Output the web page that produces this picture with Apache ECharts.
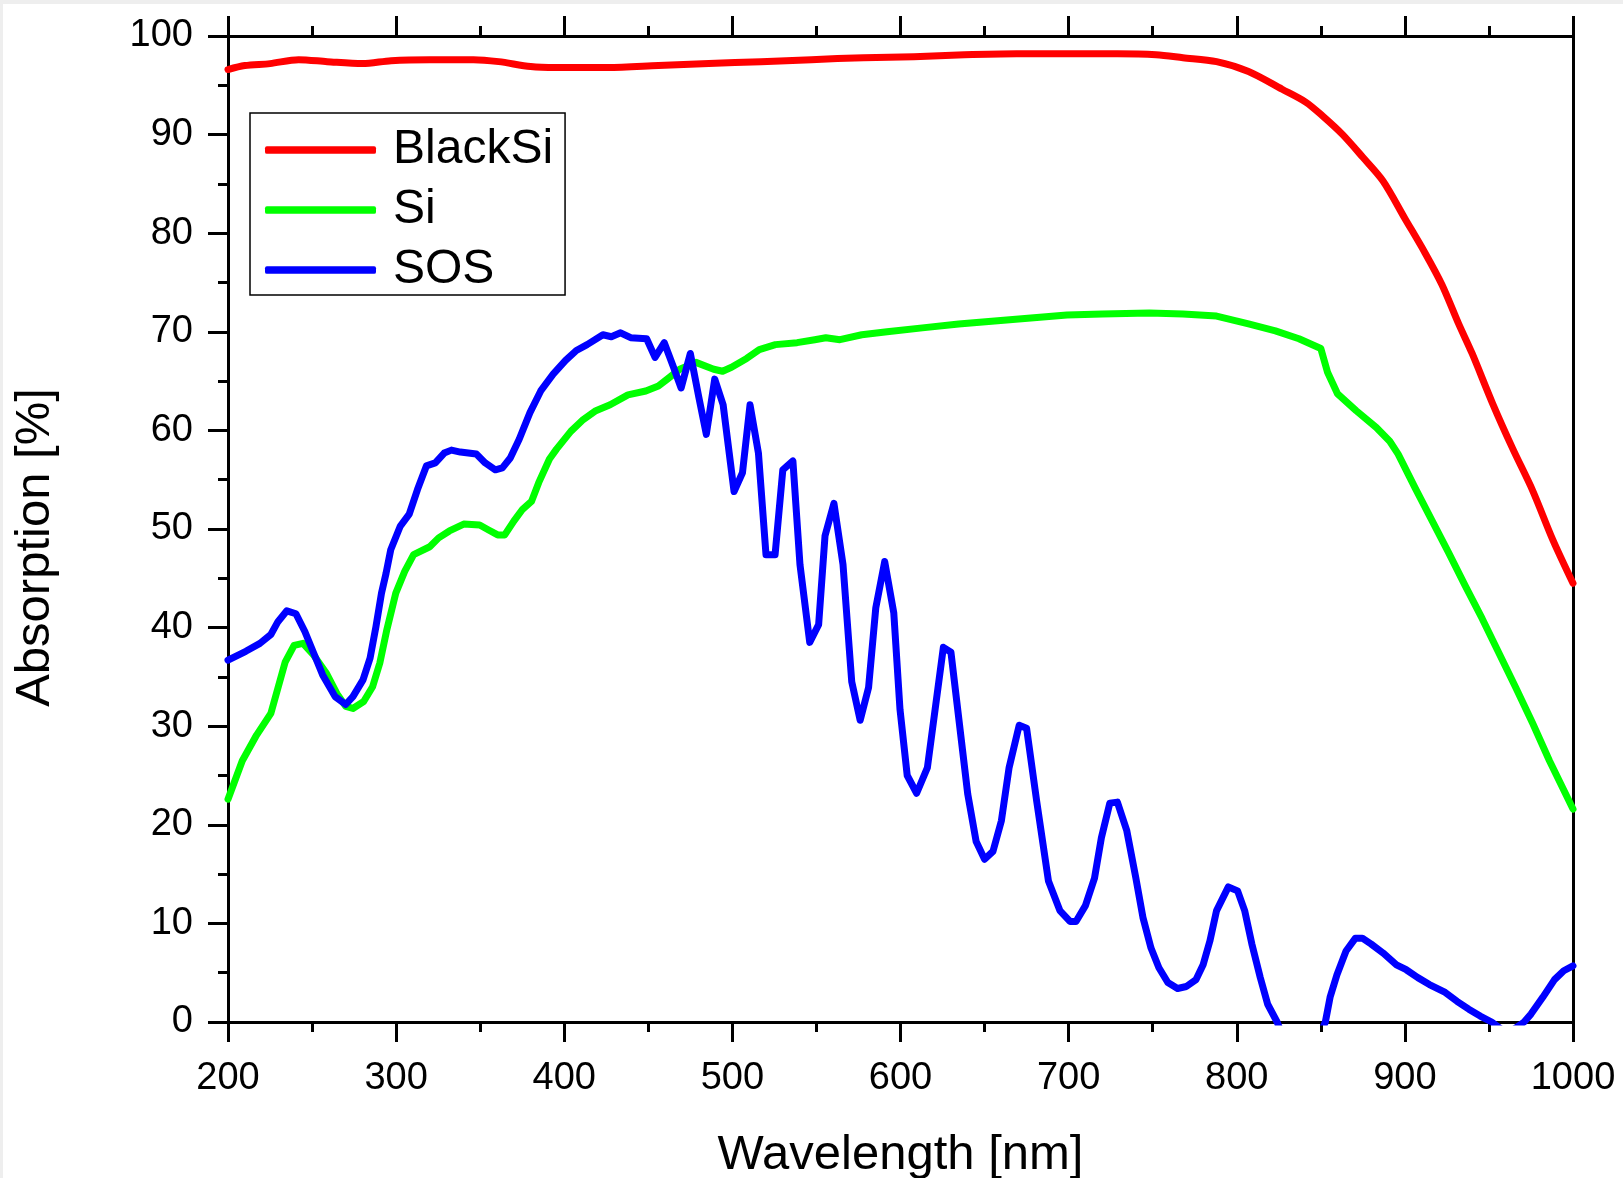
<!DOCTYPE html>
<html>
<head>
<meta charset="utf-8">
<title>Absorption</title>
<script src="https://cdn.jsdelivr.net/npm/echarts@6/dist/echarts.min.js"></script>
<style>
  html, body { margin: 0; padding: 0; background: #fff; }
  .frame { position: relative; width: 1623px; height: 1178px; box-shadow: inset 3px 4px 0 #eeeeee; }
  #chart { position: absolute; left: 0; top: 0; width: 1623px; height: 1178px; }
</style>
</head>
<body>
<div class="frame"><div id="chart"></div></div>
<script>
// wavelength [nm] and absorption [%]
const blackSiNm = [200, 210, 225, 242, 259, 280, 297, 320, 346, 361, 380, 395, 426, 456, 486, 517, 547, 578, 608, 638, 669, 699, 729, 752, 768, 788, 807, 827, 841, 851, 863, 875, 887, 900, 912, 922, 932, 940, 952, 964, 976, 988, 1000]
const blackSiVal = [96.6, 97.0, 97.2, 97.6, 97.4, 97.2, 97.5, 97.6, 97.6, 97.4, 96.9, 96.8, 96.8, 97.0, 97.2, 97.4, 97.6, 97.8, 97.9, 98.1, 98.2, 98.2, 98.2, 98.1, 97.8, 97.4, 96.4, 94.6, 93.3, 91.9, 90.0, 87.7, 85.3, 81.5, 78.0, 74.8, 70.8, 67.8, 62.8, 58.2, 53.9, 48.9, 44.5]

const siNm = [200, 208.5, 217, 225.5, 234, 239.3, 244.6, 251, 258.4, 264.8, 270.1, 274.3, 280.7, 286, 290.3, 294.5, 299.8, 305.1, 310.4, 320, 325.3, 331.7, 340.2, 349.7, 355, 360.4, 364.6, 370, 375.2, 380.5, 384.8, 391.2, 395.4, 403.9, 411.3, 418.8, 427.3, 437.9, 448.5, 456, 461.3, 468.7, 478.3, 488.9, 494.2, 499.5, 508.5, 516, 525.6, 538.5, 549, 555.6, 564, 577, 592, 613, 634.6, 656, 677.5, 699, 720, 748, 768, 788, 807, 823, 837, 850, 854, 860, 871, 883, 891, 896, 906, 916, 926, 936, 946, 956, 966, 976, 986, 1000]
const siVal = [22.6, 26.5, 29.1, 31.3, 36.5, 38.2, 38.4, 37.2, 35.4, 33.3, 32.0, 31.8, 32.5, 34.0, 36.4, 39.8, 43.5, 45.7, 47.4, 48.2, 49.1, 49.8, 50.5, 50.4, 49.9, 49.4, 49.4, 50.8, 52.0, 52.8, 54.7, 57.1, 58.1, 59.9, 61.1, 62.0, 62.6, 63.6, 64.0, 64.5, 65.2, 66.2, 66.9, 66.2, 66.0, 66.4, 67.3, 68.2, 68.7, 68.9, 69.2, 69.4, 69.2, 69.7, 70.0, 70.4, 70.8, 71.1, 71.4, 71.7, 71.8, 71.9, 71.8, 71.6, 70.8, 70.1, 69.3, 68.3, 65.9, 63.7, 62.0, 60.3, 58.9, 57.6, 54.2, 50.9, 47.6, 44.2, 40.9, 37.4, 33.9, 30.3, 26.5, 21.6]

const sosNm = [200, 210.6, 219, 225.5, 229.7, 235, 240.4, 245.7, 251, 256.3, 263.7, 270, 274.3, 280.3, 284.5, 288, 291.3, 294, 296.8, 302.5, 307.8, 312.7, 318, 323.3, 328.6, 332.9, 338.2, 347.7, 353, 359, 363.2, 367.9, 373.2, 379.6, 386, 393.4, 400.8, 407.2, 413.6, 423, 428, 433.5, 439.5, 449, 454, 459.5, 465, 469.5, 475, 480, 484.5, 489.5, 494.5, 501, 506, 510.5, 515.5, 520, 525.4, 530, 536, 540.2, 546, 551.3, 555.1, 560.4, 565.8, 571, 576, 581, 585.3, 590.6, 596, 599.7, 604, 609.6, 616, 625.5, 630, 640, 645, 650, 655, 660, 664.6, 670.6, 675, 681, 688, 694.8, 700.8, 704.4, 710, 715.4, 719.5, 724.5, 729, 734.6, 740, 744.2, 749, 753.7, 759, 764.8, 770, 775.8, 780, 784, 788, 795, 800.5, 804.7, 809, 814, 818.4, 824, 830, 838, 846, 852.7, 855.5, 859.6, 865, 870.6, 874.7, 880, 887, 895, 900.8, 907.7, 914.6, 924, 931, 938, 944.8, 951.6, 961, 970.9, 975, 982, 989, 994.5, 1000]
const sosVal = [36.7, 37.6, 38.4, 39.3, 40.6, 41.7, 41.4, 39.6, 37.4, 35.2, 33.0, 32.2, 33.0, 34.7, 36.9, 40.1, 43.5, 45.5, 47.9, 50.3, 51.5, 54.0, 56.4, 56.7, 57.7, 58.0, 57.8, 57.6, 56.7, 56.0, 56.2, 57.2, 59.1, 61.8, 64.0, 65.7, 67.1, 68.1, 68.7, 69.7, 69.5, 69.9, 69.4, 69.3, 67.4, 68.9, 66.4, 64.3, 67.8, 63.4, 59.6, 65.2, 62.6, 53.8, 55.7, 62.6, 57.7, 47.4, 47.4, 56.0, 56.9, 46.4, 38.5, 40.3, 49.3, 52.6, 46.4, 34.5, 30.6, 33.9, 42.0, 46.7, 41.5, 31.7, 25.0, 23.2, 25.8, 38.0, 37.5, 23.1, 18.3, 16.5, 17.3, 20.4, 25.8, 30.1, 29.8, 22.4, 14.3, 11.3, 10.2, 10.2, 11.8, 14.6, 18.7, 22.2, 22.3, 19.4, 14.6, 10.6, 7.5, 5.5, 4.0, 3.4, 3.6, 4.3, 5.8, 8.2, 11.3, 13.7, 13.3, 11.3, 7.9, 4.5, 1.8, 0, -2.6, -4.0, -2.6, 0, 2.5, 4.8, 7.2, 8.5, 8.5, 7.9, 7.0, 5.8, 5.3, 4.5, 3.8, 3.0, 2.1, 1.3, 0.6, 0, -1.2, 0, 0.8, 2.5, 4.3, 5.2, 5.7]

const seriesNames = ['BlackSi', 'Si', 'SOS']
const seriesColors = ['#ff0000', '#00ff00', '#0000ff']

const font = "'Liberation Sans', Arial, sans-serif"

function pairs (xs, ys) {
  return xs.map((x, i) => [x, ys[i]])
}

function lineSeries (idx, data, smooth) {
  return {
    name: seriesNames[idx],
    type: 'line',
    data: data,
    symbol: 'none',
    showSymbol: false,
    smooth: smooth,
    clip: true,
    color: seriesColors[idx],
    lineStyle: { color: seriesColors[idx], width: 7, cap: 'round', join: 'round' },
    z: 3 + idx
  }
}

const chart = echarts.init(document.getElementById('chart'))
const axisLine = { show: true, onZero: false, lineStyle: { color: '#000', width: 3 } }
const majorTick = { show: true, length: 20, lineStyle: { color: '#000', width: 3 } }
const minorTick = { show: true, splitNumber: 2, length: 10, lineStyle: { color: '#000', width: 3 } }

const option = {
  animation: false,
  backgroundColor: 'transparent',
  grid: { left: 228, right: 50, top: 36, bottom: 156, outerBoundsMode: 'none', containLabel: false },
  legend: {
    data: seriesNames.map((n, i) => ({ name: n, icon: 'roundRect', itemStyle: { color: seriesColors[i] } })),
    orient: 'vertical',
    left: 250,
    top: 113,
    itemWidth: 111,
    itemHeight: 7.5,
    itemGap: 12,
    padding: [13, 12, 1, 15],
    borderColor: '#000',
    borderWidth: 1.5,
    textStyle: { fontSize: 48, color: '#000', fontFamily: font, padding: [0, 0, 0, 12] }
  },
  xAxis: [
    {
      type: 'value',
      position: 'bottom',
      min: 200,
      max: 1000,
      interval: 100,
      name: 'Wavelength [nm]',
      nameLocation: 'middle',
      nameGap: 109,
      nameTextStyle: { fontSize: 49, color: '#000', fontFamily: font },
      axisLine: axisLine,
      axisTick: majorTick,
      minorTick: minorTick,
      axisLabel: { fontSize: 38, color: '#000', fontFamily: font, margin: 38, formatter: v => String(v) },
      splitLine: { show: false },
      minorSplitLine: { show: false }
    },
    {
      type: 'value',
      position: 'top',
      min: 200,
      max: 1000,
      interval: 100,
      axisLine: axisLine,
      axisTick: majorTick,
      minorTick: minorTick,
      axisLabel: { show: false },
      splitLine: { show: false }
    }
  ],
  yAxis: [
    {
      type: 'value',
      position: 'left',
      min: 0,
      max: 100,
      interval: 10,
      name: 'Absorption [%]',
      nameLocation: 'middle',
      nameGap: 168,
      nameTextStyle: { fontSize: 49, color: '#000', fontFamily: font, padding: [0, 37, 0, 0] },
      axisLine: axisLine,
      axisTick: majorTick,
      minorTick: minorTick,
      axisLabel: { fontSize: 38, color: '#000', fontFamily: font, margin: 35 },
      splitLine: { show: false }
    },
    {
      type: 'value',
      position: 'right',
      min: 0,
      max: 100,
      interval: 10,
      axisLine: axisLine,
      axisTick: { show: false },
      axisLabel: { show: false },
      splitLine: { show: false }
    }
  ],
  series: [
    lineSeries(0, pairs(blackSiNm, blackSiVal), 0.3),
    lineSeries(1, pairs(siNm, siVal), false),
    lineSeries(2, pairs(sosNm, sosVal), false)
  ]
}
chart.setOption(option)
</script>
</body>
</html>
